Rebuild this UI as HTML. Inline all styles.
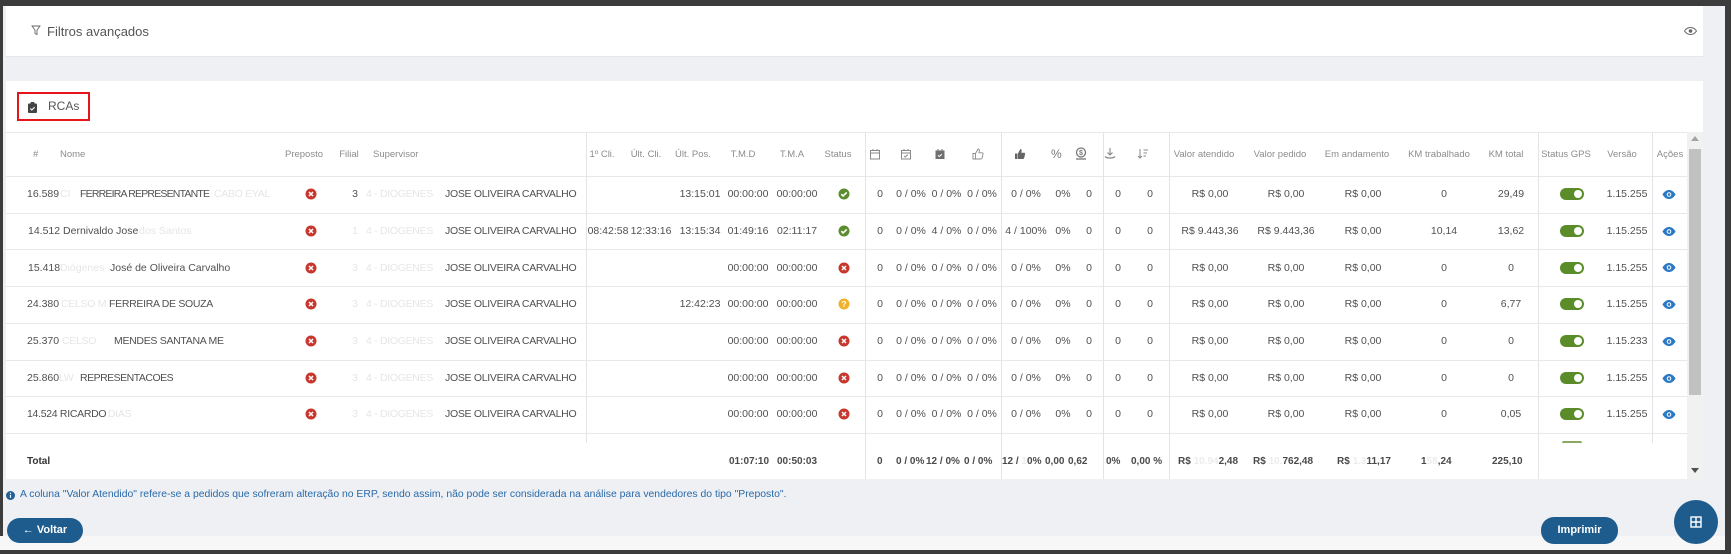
<!DOCTYPE html>
<html><head><meta charset="utf-8">
<style>
*{margin:0;padding:0;box-sizing:border-box}
body{width:1731px;height:554px;position:relative;overflow:hidden;background:#eef0f4;font-family:"Liberation Sans",sans-serif;}
.a{position:absolute;white-space:nowrap}
.panel{position:absolute;background:#fff}
.vl{position:absolute;width:1px;background:#e4e4e6}
.hl{position:absolute;height:1px;background:#e8e8ea;left:6px;width:1681px}
.hd{position:absolute;top:147.5px;line-height:13px;font-size:9.5px;color:#8c8c8c;white-space:nowrap}
.row{position:absolute;left:0;width:1731px;height:36.7px}
.tx{position:absolute;top:11.3px;line-height:14px;font-size:10.5px;color:#505050;white-space:nowrap}
.cc{width:90px;margin-left:-45px;text-align:center}
.n{letter-spacing:-0.3px}
.f{color:#e6e6e8}
.ico{position:absolute;top:12.3px}
.tg{position:absolute;top:12.3px;left:1560px;width:24px;height:12px;border-radius:6px;background:#5b8c2a}
.tg::after{content:"";position:absolute;right:2px;top:2px;width:8px;height:8px;border-radius:50%;background:#fff}
.eye{position:absolute;top:14px;left:1661.5px}
.tot{position:absolute;top:455px;line-height:14px;font-size:10px;color:#4a4a4a;font-weight:bold;white-space:nowrap}
.btn{position:absolute;background:#1e5c8e;color:#fff;font-weight:bold;font-size:11px;border-radius:13px;text-align:center}
</style></head><body>
<!-- dark frame -->
<div class="a" style="left:0;top:0;width:1731px;height:6px;background:#3c3c3c"></div>
<div class="a" style="left:0;top:0;width:3px;height:554px;background:#3c3c3c"></div>
<div class="a" style="left:1725px;top:0;width:6px;height:554px;background:#3c3c3c"></div>
<div class="a" style="left:0;top:536px;width:1725px;height:14px;background:#f7f7f8"></div>
<div class="a" style="left:0;top:550px;width:1731px;height:4px;background:#3c3c3c"></div>

<!-- filter panel -->
<div class="panel" style="left:6px;top:6px;width:1697px;height:51px;border-bottom:1px solid #e6e6ea"></div>
<svg class="a" style="left:31px;top:25px" width="10" height="11" viewBox="0 0 10 11"><path d="M1 1h8L6 5v4.5L4 8.5V5z" fill="none" stroke="#666" stroke-width="0.9"/></svg>
<div class="a" style="left:47px;top:23.5px;line-height:15px;font-size:13px;color:#555">Filtros avançados</div>
<svg class="a" style="left:1684px;top:27px" width="13" height="8" viewBox="0 0 13 8"><path d="M.5 4C2.5 1 4.5 .5 6.5 .5S10.5 1 12.5 4C10.5 7 8.5 7.5 6.5 7.5S2.5 7 .5 4z" fill="none" stroke="#666"/><circle cx="6.5" cy="4" r="1.8" fill="#666"/></svg>

<!-- main panel -->
<div class="panel" style="left:6px;top:81px;width:1697px;height:398px"></div>
<div class="a" style="left:17px;top:92px;width:73px;height:29px;border:2px solid #e8141b"></div>
<svg class="a" style="left:28px;top:102px" width="9" height="11" viewBox="0 0 9 11"><rect x="0" y="1.5" width="9" height="9.5" rx="1" fill="#444"/><rect x="2.5" y="0" width="4" height="2.5" rx="0.8" fill="#444"/><path d="M2.3 6.5l1.5 1.5 2.8-2.8" stroke="#fff" stroke-width="1.1" fill="none"/></svg>
<div class="a" style="left:48px;top:99px;line-height:15px;font-size:12px;color:#555">RCAs</div>

<!-- header top border -->
<div class="hl" style="top:132px"></div>
<div class="hl" style="top:176px"></div>

<!-- vertical dividers -->
<div class="vl" style="left:586px;top:132px;height:311px"></div>
<div class="vl" style="left:865px;top:132px;height:347px"></div>
<div class="vl" style="left:1001px;top:132px;height:347px"></div>
<div class="vl" style="left:1103px;top:132px;height:347px"></div>
<div class="vl" style="left:1169px;top:132px;height:347px"></div>
<div class="vl" style="left:1538px;top:132px;height:347px"></div>
<div class="vl" style="left:1652px;top:132px;height:311px"></div>

<!-- header labels -->
<div class="hd" style="left:33px">#</div>
<div class="hd" style="left:60px">Nome</div>
<div class="hd cc" style="left:304px">Preposto</div>
<div class="hd cc" style="left:349px">Filial</div>
<div class="hd" style="left:373px">Supervisor</div>
<div class="hd cc" style="left:602px">1º Cli.</div>
<div class="hd cc" style="left:646px">Últ. Cli.</div>
<div class="hd cc" style="left:693px">Últ. Pos.</div>
<div class="hd cc" style="left:743px">T.M.D</div>
<div class="hd cc" style="left:792px">T.M.A</div>
<div class="hd cc" style="left:838px">Status</div>
<div class="hd cc" style="left:1204px">Valor atendido</div>
<div class="hd cc" style="left:1280px">Valor pedido</div>
<div class="hd cc" style="left:1357px">Em andamento</div>
<div class="hd cc" style="left:1439px">KM trabalhado</div>
<div class="hd cc" style="left:1506px">KM total</div>
<div class="hd cc" style="left:1566px">Status GPS</div>
<div class="hd cc" style="left:1622px">Versão</div>
<div class="hd cc" style="left:1670px">Ações</div>

<!-- header icons -->
<svg class="a" style="left:869px;top:148px" width="12" height="12" viewBox="0 0 12 12"><rect x="1.5" y="2.5" width="9" height="8.5" fill="none" stroke="#8a8a8a"/><path d="M1.5 5h9M4 1v2M8 1v2" stroke="#8a8a8a"/></svg>
<svg class="a" style="left:900px;top:148px" width="12" height="12" viewBox="0 0 12 12"><rect x="1.5" y="2.5" width="9" height="8.5" fill="none" stroke="#8a8a8a"/><path d="M1.5 5h9M4 1v2M8 1v2" stroke="#8a8a8a"/><path d="M4 7.8l1.3 1.3 2.5-2.5" stroke="#8a8a8a" fill="none"/></svg>
<svg class="a" style="left:934px;top:148px" width="12" height="12" viewBox="0 0 12 12"><rect x="1.5" y="2.5" width="9" height="8.5" fill="#707070"/><path d="M4 1v2M8 1v2" stroke="#707070"/><path d="M4 7.3l1.3 1.3 2.5-2.5" stroke="#fff" fill="none"/></svg>
<svg class="a" style="left:972px;top:148px" width="12" height="12" viewBox="0 0 12 12"><path d="M1 5.5h2.5V11H1zM3.5 5.5L6 1c1 0 1.5.6 1.3 1.8L7 4.8h3c.8 0 1.2.6 1 1.3l-1 4c-.2.6-.6.9-1.2.9H3.5" fill="none" stroke="#8a8a8a" stroke-width="0.9"/></svg>
<svg class="a" style="left:1014px;top:148px" width="12" height="12" viewBox="0 0 12 12"><path d="M1 5.5h2.5V11H1zM4 5.5L6.3 1c1 0 1.5.6 1.3 1.8L7.3 4.8h2.8c.8 0 1.2.6 1 1.3l-1 4c-.2.6-.6.9-1.2.9H4z" fill="#666"/></svg>
<div class="a" style="left:1051px;top:146.5px;font-size:12px;line-height:15px;color:#777">%</div>
<svg class="a" style="left:1075px;top:147px" width="12" height="13" viewBox="0 0 12 13"><circle cx="6" cy="5.5" r="4.5" fill="none" stroke="#777" stroke-width="1.3"/><text x="6" y="8" font-size="7" text-anchor="middle" fill="#777" font-family="Liberation Sans" font-weight="bold">$</text><path d="M1 12h10" stroke="#777" stroke-width="1.3"/></svg>
<svg class="a" style="left:1104px;top:147px" width="12" height="13" viewBox="0 0 12 13"><path d="M6 1v7M3.5 5.5L6 8l2.5-2.5" stroke="#888" fill="none" stroke-width="1.1"/><path d="M1 9.5c1.5 2 8.5 2 10 0" stroke="#888" fill="none" stroke-width="1.3"/></svg>
<svg class="a" style="left:1137px;top:148px" width="12" height="12" viewBox="0 0 12 12"><path d="M3 1v9M1 8l2 2 2-2" stroke="#888" fill="none"/><path d="M6.5 2h4.5M6.5 5h3.5M6.5 8h2.5" stroke="#888"/></svg>

<!-- row lines -->
<div class="hl" style="top:212.7px"></div>
<div class="hl" style="top:249.4px"></div>
<div class="hl" style="top:286.1px"></div>
<div class="hl" style="top:322.8px"></div>
<div class="hl" style="top:359.5px"></div>
<div class="hl" style="top:396.2px"></div>
<div class="hl" style="top:432.9px"></div>

<!-- ROW 1 -->
<div class="row" style="top:176px">
<span class="tx" style="left:27px">16.589</span>
<span class="tx f" style="left:60px">CI</span>
<span class="tx n" style="left:80px;letter-spacing:-0.8px">FERREIRA REPRESENTANTE</span>
<span class="tx f n" style="left:214px">CABO EYAL</span>
<svg class="ico" style="left:305px" width="12" height="12" viewBox="0 0 12 12"><circle cx="6" cy="6" r="5.5" fill="#c8372d"/><path d="M4 4l4 4M8 4l-4 4" stroke="#fff" stroke-width="1.5"/></svg>
<span class="tx cc" style="left:355px">3</span>
<span class="tx f n" style="left:366px">4 - DIOGENES</span>
<span class="tx n" style="left:445px">JOSE OLIVEIRA CARVALHO</span>
<span class="tx cc" style="left:700px">13:15:01</span>
<span class="tx cc" style="left:748px">00:00:00</span>
<span class="tx cc" style="left:797px">00:00:00</span>
<svg class="ico" style="left:838px" width="12" height="12" viewBox="0 0 12 12"><circle cx="6" cy="6" r="5.5" fill="#5b8c2e"/><path d="M3.3 6.2l1.8 1.8 3.6-3.6" stroke="#fff" stroke-width="1.6" fill="none"/></svg>
<span class="tx cc" style="left:880px">0</span><span class="tx cc" style="left:911px">0 / 0%</span><span class="tx cc" style="left:946.5px">0 / 0%</span><span class="tx cc" style="left:982px">0 / 0%</span><span class="tx cc" style="left:1026px">0 / 0%</span><span class="tx cc" style="left:1063px">0%</span><span class="tx cc" style="left:1089px">0</span><span class="tx cc" style="left:1118px">0</span><span class="tx cc" style="left:1150px">0</span>
<span class="tx cc" style="left:1210px">R$ 0,00</span><span class="tx cc" style="left:1286px">R$ 0,00</span><span class="tx cc" style="left:1363px">R$ 0,00</span><span class="tx cc" style="left:1444px">0</span><span class="tx cc" style="left:1511px">29,49</span>
<div class="tg"></div>
<span class="tx cc" style="left:1627px">1.15.255</span>
<svg class="eye" width="14" height="9" viewBox="0 0 14 9"><path d="M.5 4.5C2.5 1 5 0 7 0s4.5 1 6.5 4.5C11.5 8 9 9 7 9S2.5 8 .5 4.5z" fill="#2b78c5"/><circle cx="7" cy="4.5" r="2.3" fill="#fff"/><circle cx="7" cy="4.5" r="1.3" fill="#2b78c5"/></svg>
</div>

<!-- ROW 2 -->
<div class="row" style="top:212.7px">
<span class="tx" style="left:28px">14.512 Dernivaldo Jose</span>
<span class="tx f" style="left:139px">dos Santos</span>
<svg class="ico" style="left:305px" width="12" height="12" viewBox="0 0 12 12"><circle cx="6" cy="6" r="5.5" fill="#c8372d"/><path d="M4 4l4 4M8 4l-4 4" stroke="#fff" stroke-width="1.5"/></svg>
<span class="tx f cc" style="left:355px">1</span>
<span class="tx f n" style="left:366px">4 - DIOGENES</span>
<span class="tx n" style="left:445px">JOSE OLIVEIRA CARVALHO</span>
<span class="tx cc" style="left:608px">08:42:58</span>
<span class="tx cc" style="left:651px">12:33:16</span>
<span class="tx cc" style="left:700px">13:15:34</span>
<span class="tx cc" style="left:748px">01:49:16</span>
<span class="tx cc" style="left:797px">02:11:17</span>
<svg class="ico" style="left:838px" width="12" height="12" viewBox="0 0 12 12"><circle cx="6" cy="6" r="5.5" fill="#5b8c2e"/><path d="M3.3 6.2l1.8 1.8 3.6-3.6" stroke="#fff" stroke-width="1.6" fill="none"/></svg>
<span class="tx cc" style="left:880px">0</span><span class="tx cc" style="left:911px">0 / 0%</span><span class="tx cc" style="left:946.5px">4 / 0%</span><span class="tx cc" style="left:982px">0 / 0%</span><span class="tx cc" style="left:1026px">4 / 100%</span><span class="tx cc" style="left:1063px">0%</span><span class="tx cc" style="left:1089px">0</span><span class="tx cc" style="left:1118px">0</span><span class="tx cc" style="left:1150px">0</span>
<span class="tx cc" style="left:1210px">R$ 9.443,36</span><span class="tx cc" style="left:1286px">R$ 9.443,36</span><span class="tx cc" style="left:1363px">R$ 0,00</span><span class="tx cc" style="left:1444px">10,14</span><span class="tx cc" style="left:1511px">13,62</span>
<div class="tg"></div>
<span class="tx cc" style="left:1627px">1.15.255</span>
<svg class="eye" width="14" height="9" viewBox="0 0 14 9"><path d="M.5 4.5C2.5 1 5 0 7 0s4.5 1 6.5 4.5C11.5 8 9 9 7 9S2.5 8 .5 4.5z" fill="#2b78c5"/><circle cx="7" cy="4.5" r="2.3" fill="#fff"/><circle cx="7" cy="4.5" r="1.3" fill="#2b78c5"/></svg>
</div>

<!-- ROW 3 -->
<div class="row" style="top:249.4px">
<span class="tx" style="left:28px">15.418</span>
<span class="tx f" style="left:60px">Diógenes</span>
<span class="tx" style="left:110px">José de Oliveira Carvalho</span>
<svg class="ico" style="left:305px" width="12" height="12" viewBox="0 0 12 12"><circle cx="6" cy="6" r="5.5" fill="#c8372d"/><path d="M4 4l4 4M8 4l-4 4" stroke="#fff" stroke-width="1.5"/></svg>
<span class="tx f cc" style="left:355px">3</span>
<span class="tx f n" style="left:366px">4 - DIOGENES</span>
<span class="tx n" style="left:445px">JOSE OLIVEIRA CARVALHO</span>
<span class="tx cc" style="left:748px">00:00:00</span>
<span class="tx cc" style="left:797px">00:00:00</span>
<svg class="ico" style="left:838px" width="12" height="12" viewBox="0 0 12 12"><circle cx="6" cy="6" r="5.5" fill="#c8372d"/><path d="M4 4l4 4M8 4l-4 4" stroke="#fff" stroke-width="1.5"/></svg>
<span class="tx cc" style="left:880px">0</span><span class="tx cc" style="left:911px">0 / 0%</span><span class="tx cc" style="left:946.5px">0 / 0%</span><span class="tx cc" style="left:982px">0 / 0%</span><span class="tx cc" style="left:1026px">0 / 0%</span><span class="tx cc" style="left:1063px">0%</span><span class="tx cc" style="left:1089px">0</span><span class="tx cc" style="left:1118px">0</span><span class="tx cc" style="left:1150px">0</span>
<span class="tx cc" style="left:1210px">R$ 0,00</span><span class="tx cc" style="left:1286px">R$ 0,00</span><span class="tx cc" style="left:1363px">R$ 0,00</span><span class="tx cc" style="left:1444px">0</span><span class="tx cc" style="left:1511px">0</span>
<div class="tg"></div>
<span class="tx cc" style="left:1627px">1.15.255</span>
<svg class="eye" width="14" height="9" viewBox="0 0 14 9"><path d="M.5 4.5C2.5 1 5 0 7 0s4.5 1 6.5 4.5C11.5 8 9 9 7 9S2.5 8 .5 4.5z" fill="#2b78c5"/><circle cx="7" cy="4.5" r="2.3" fill="#fff"/><circle cx="7" cy="4.5" r="1.3" fill="#2b78c5"/></svg>
</div>

<!-- ROW 4 -->
<div class="row" style="top:286.1px">
<span class="tx" style="left:27px">24.380</span>
<span class="tx f n" style="left:61px">CELSO M</span>
<span class="tx n" style="left:109px">FERREIRA DE SOUZA</span>
<svg class="ico" style="left:305px" width="12" height="12" viewBox="0 0 12 12"><circle cx="6" cy="6" r="5.5" fill="#c8372d"/><path d="M4 4l4 4M8 4l-4 4" stroke="#fff" stroke-width="1.5"/></svg>
<span class="tx f cc" style="left:355px">3</span>
<span class="tx f n" style="left:366px">4 - DIOGENES</span>
<span class="tx n" style="left:445px">JOSE OLIVEIRA CARVALHO</span>
<span class="tx cc" style="left:700px">12:42:23</span>
<span class="tx cc" style="left:748px">00:00:00</span>
<span class="tx cc" style="left:797px">00:00:00</span>
<svg class="ico" style="left:838px" width="12" height="12" viewBox="0 0 12 12"><circle cx="6" cy="6" r="5.5" fill="#f0b12c"/><text x="6" y="9.2" font-size="8.5" text-anchor="middle" fill="#fff" font-family="Liberation Sans" font-weight="bold">?</text></svg>
<span class="tx cc" style="left:880px">0</span><span class="tx cc" style="left:911px">0 / 0%</span><span class="tx cc" style="left:946.5px">0 / 0%</span><span class="tx cc" style="left:982px">0 / 0%</span><span class="tx cc" style="left:1026px">0 / 0%</span><span class="tx cc" style="left:1063px">0%</span><span class="tx cc" style="left:1089px">0</span><span class="tx cc" style="left:1118px">0</span><span class="tx cc" style="left:1150px">0</span>
<span class="tx cc" style="left:1210px">R$ 0,00</span><span class="tx cc" style="left:1286px">R$ 0,00</span><span class="tx cc" style="left:1363px">R$ 0,00</span><span class="tx cc" style="left:1444px">0</span><span class="tx cc" style="left:1511px">6,77</span>
<div class="tg"></div>
<span class="tx cc" style="left:1627px">1.15.255</span>
<svg class="eye" width="14" height="9" viewBox="0 0 14 9"><path d="M.5 4.5C2.5 1 5 0 7 0s4.5 1 6.5 4.5C11.5 8 9 9 7 9S2.5 8 .5 4.5z" fill="#2b78c5"/><circle cx="7" cy="4.5" r="2.3" fill="#fff"/><circle cx="7" cy="4.5" r="1.3" fill="#2b78c5"/></svg>
</div>

<!-- ROW 5 -->
<div class="row" style="top:322.8px">
<span class="tx" style="left:27px">25.370</span>
<span class="tx f n" style="left:62px">CELSO</span>
<span class="tx n" style="left:114px">MENDES SANTANA ME</span>
<svg class="ico" style="left:305px" width="12" height="12" viewBox="0 0 12 12"><circle cx="6" cy="6" r="5.5" fill="#c8372d"/><path d="M4 4l4 4M8 4l-4 4" stroke="#fff" stroke-width="1.5"/></svg>
<span class="tx f cc" style="left:355px">3</span>
<span class="tx f n" style="left:366px">4 - DIOGENES</span>
<span class="tx n" style="left:445px">JOSE OLIVEIRA CARVALHO</span>
<span class="tx cc" style="left:748px">00:00:00</span>
<span class="tx cc" style="left:797px">00:00:00</span>
<svg class="ico" style="left:838px" width="12" height="12" viewBox="0 0 12 12"><circle cx="6" cy="6" r="5.5" fill="#c8372d"/><path d="M4 4l4 4M8 4l-4 4" stroke="#fff" stroke-width="1.5"/></svg>
<span class="tx cc" style="left:880px">0</span><span class="tx cc" style="left:911px">0 / 0%</span><span class="tx cc" style="left:946.5px">0 / 0%</span><span class="tx cc" style="left:982px">0 / 0%</span><span class="tx cc" style="left:1026px">0 / 0%</span><span class="tx cc" style="left:1063px">0%</span><span class="tx cc" style="left:1089px">0</span><span class="tx cc" style="left:1118px">0</span><span class="tx cc" style="left:1150px">0</span>
<span class="tx cc" style="left:1210px">R$ 0,00</span><span class="tx cc" style="left:1286px">R$ 0,00</span><span class="tx cc" style="left:1363px">R$ 0,00</span><span class="tx cc" style="left:1444px">0</span><span class="tx cc" style="left:1511px">0</span>
<div class="tg"></div>
<span class="tx cc" style="left:1627px">1.15.233</span>
<svg class="eye" width="14" height="9" viewBox="0 0 14 9"><path d="M.5 4.5C2.5 1 5 0 7 0s4.5 1 6.5 4.5C11.5 8 9 9 7 9S2.5 8 .5 4.5z" fill="#2b78c5"/><circle cx="7" cy="4.5" r="2.3" fill="#fff"/><circle cx="7" cy="4.5" r="1.3" fill="#2b78c5"/></svg>
</div>

<!-- ROW 6 -->
<div class="row" style="top:359.5px">
<span class="tx" style="left:27px">25.860</span>
<span class="tx f n" style="left:59px">LW</span>
<span class="tx n" style="left:80px;letter-spacing:-0.5px">REPRESENTACOES</span>
<svg class="ico" style="left:305px" width="12" height="12" viewBox="0 0 12 12"><circle cx="6" cy="6" r="5.5" fill="#c8372d"/><path d="M4 4l4 4M8 4l-4 4" stroke="#fff" stroke-width="1.5"/></svg>
<span class="tx f cc" style="left:355px">3</span>
<span class="tx f n" style="left:366px">4 - DIOGENES</span>
<span class="tx n" style="left:445px">JOSE OLIVEIRA CARVALHO</span>
<span class="tx cc" style="left:748px">00:00:00</span>
<span class="tx cc" style="left:797px">00:00:00</span>
<svg class="ico" style="left:838px" width="12" height="12" viewBox="0 0 12 12"><circle cx="6" cy="6" r="5.5" fill="#c8372d"/><path d="M4 4l4 4M8 4l-4 4" stroke="#fff" stroke-width="1.5"/></svg>
<span class="tx cc" style="left:880px">0</span><span class="tx cc" style="left:911px">0 / 0%</span><span class="tx cc" style="left:946.5px">0 / 0%</span><span class="tx cc" style="left:982px">0 / 0%</span><span class="tx cc" style="left:1026px">0 / 0%</span><span class="tx cc" style="left:1063px">0%</span><span class="tx cc" style="left:1089px">0</span><span class="tx cc" style="left:1118px">0</span><span class="tx cc" style="left:1150px">0</span>
<span class="tx cc" style="left:1210px">R$ 0,00</span><span class="tx cc" style="left:1286px">R$ 0,00</span><span class="tx cc" style="left:1363px">R$ 0,00</span><span class="tx cc" style="left:1444px">0</span><span class="tx cc" style="left:1511px">0</span>
<div class="tg"></div>
<span class="tx cc" style="left:1627px">1.15.255</span>
<svg class="eye" width="14" height="9" viewBox="0 0 14 9"><path d="M.5 4.5C2.5 1 5 0 7 0s4.5 1 6.5 4.5C11.5 8 9 9 7 9S2.5 8 .5 4.5z" fill="#2b78c5"/><circle cx="7" cy="4.5" r="2.3" fill="#fff"/><circle cx="7" cy="4.5" r="1.3" fill="#2b78c5"/></svg>
</div>

<!-- ROW 7 -->
<div class="row" style="top:396.2px">
<span class="tx n" style="left:27px">14.524 RICARDO</span>
<span class="tx f n" style="left:108px">DIAS</span>
<svg class="ico" style="left:305px" width="12" height="12" viewBox="0 0 12 12"><circle cx="6" cy="6" r="5.5" fill="#c8372d"/><path d="M4 4l4 4M8 4l-4 4" stroke="#fff" stroke-width="1.5"/></svg>
<span class="tx f cc" style="left:355px">3</span>
<span class="tx f n" style="left:366px">4 - DIOGENES</span>
<span class="tx n" style="left:445px">JOSE OLIVEIRA CARVALHO</span>
<span class="tx cc" style="left:748px">00:00:00</span>
<span class="tx cc" style="left:797px">00:00:00</span>
<svg class="ico" style="left:838px" width="12" height="12" viewBox="0 0 12 12"><circle cx="6" cy="6" r="5.5" fill="#c8372d"/><path d="M4 4l4 4M8 4l-4 4" stroke="#fff" stroke-width="1.5"/></svg>
<span class="tx cc" style="left:880px">0</span><span class="tx cc" style="left:911px">0 / 0%</span><span class="tx cc" style="left:946.5px">0 / 0%</span><span class="tx cc" style="left:982px">0 / 0%</span><span class="tx cc" style="left:1026px">0 / 0%</span><span class="tx cc" style="left:1063px">0%</span><span class="tx cc" style="left:1089px">0</span><span class="tx cc" style="left:1118px">0</span><span class="tx cc" style="left:1150px">0</span>
<span class="tx cc" style="left:1210px">R$ 0,00</span><span class="tx cc" style="left:1286px">R$ 0,00</span><span class="tx cc" style="left:1363px">R$ 0,00</span><span class="tx cc" style="left:1444px">0</span><span class="tx cc" style="left:1511px">0,05</span>
<div class="tg"></div>
<span class="tx cc" style="left:1627px">1.15.255</span>
<svg class="eye" width="14" height="9" viewBox="0 0 14 9"><path d="M.5 4.5C2.5 1 5 0 7 0s4.5 1 6.5 4.5C11.5 8 9 9 7 9S2.5 8 .5 4.5z" fill="#2b78c5"/><circle cx="7" cy="4.5" r="2.3" fill="#fff"/><circle cx="7" cy="4.5" r="1.3" fill="#2b78c5"/></svg>
</div>

<!-- peek of next row toggle -->
<div class="a" style="left:1562px;top:441px;width:20px;height:2px;background:#8aa860;border-radius:2px 2px 0 0"></div>

<!-- TOTAL row -->
<div class="tot" style="left:27px;color:#333">Total</div>
<div class="tot" style="left:729px">01:07:10</div>
<div class="tot" style="left:777px">00:50:03</div>
<div class="tot" style="left:877px">0</div>
<div class="tot" style="left:896px">0 / 0%</div>
<div class="tot" style="left:926px">12 / 0%</div>
<div class="tot" style="left:964px">0 / 0%</div>
<div class="tot" style="left:1002px">12 / <span style="color:#ececec">1</span>0%</div>
<div class="tot" style="left:1045px">0,00</div>
<div class="tot" style="left:1068px">0,62</div>
<div class="tot" style="left:1106px">0%</div>
<div class="tot" style="left:1131px">0,00 %</div>
<div class="tot" style="left:1178px">R$ <span style="color:#ececec">10.94</span>2,48</div>
<div class="tot" style="left:1253px">R$ <span style="color:#ececec">10.</span>762,48</div>
<div class="tot" style="left:1337px">R$ <span style="color:#ececec">1.3</span>11,17</div>
<div class="tot" style="left:1421px">1<span style="color:#ececec">58</span>,24</div>
<div class="tot" style="left:1492px">225,10</div>

<!-- scrollbar -->
<div class="a" style="left:1687px;top:132px;width:16px;height:347px;background:#f1f1f1"></div>
<div class="a" style="left:1689px;top:149px;width:12px;height:246px;background:#c1c1c1"></div>
<svg class="a" style="left:1691px;top:136px" width="8" height="5" viewBox="0 0 8 5"><path d="M0 5L4 0l4 5z" fill="#a3a3a3"/></svg>
<svg class="a" style="left:1691px;top:468px" width="8" height="5" viewBox="0 0 8 5"><path d="M0 0h8L4 5z" fill="#505050"/></svg>

<!-- note -->
<svg class="a" style="left:6px;top:491px" width="9" height="9" viewBox="0 0 9 9"><circle cx="4.5" cy="4.5" r="4.5" fill="#1f5f96"/><path d="M4.5 3.8v3" stroke="#fff" stroke-width="1.2"/><circle cx="4.5" cy="2.3" r="0.7" fill="#fff"/></svg>
<div class="a" style="left:20px;top:489px;font-size:10.4px;line-height:12px;color:#2a6aa8">A coluna "Valor Atendido" refere-se a pedidos que sofreram alteração no ERP, sendo assim, não pode ser considerada na análise para vendedores do tipo "Preposto".</div>

<!-- buttons -->
<div class="btn" style="left:7px;top:518px;width:76px;height:25px;line-height:25px">← Voltar</div>
<div class="btn" style="left:1541px;top:517px;width:77px;height:27px;line-height:27px">Imprimir</div>
<div class="a" style="left:1674px;top:500px;width:44px;height:44px;border-radius:50%;background:#1e5c8e"></div>
<svg class="a" style="left:1690px;top:516px" width="12" height="12" viewBox="0 0 12 12"><rect x="1" y="1" width="10" height="10" fill="none" stroke="#fff" stroke-width="1.4"/><path d="M6 1v10M1 6h10" stroke="#fff" stroke-width="1.4"/></svg>
</body></html>
